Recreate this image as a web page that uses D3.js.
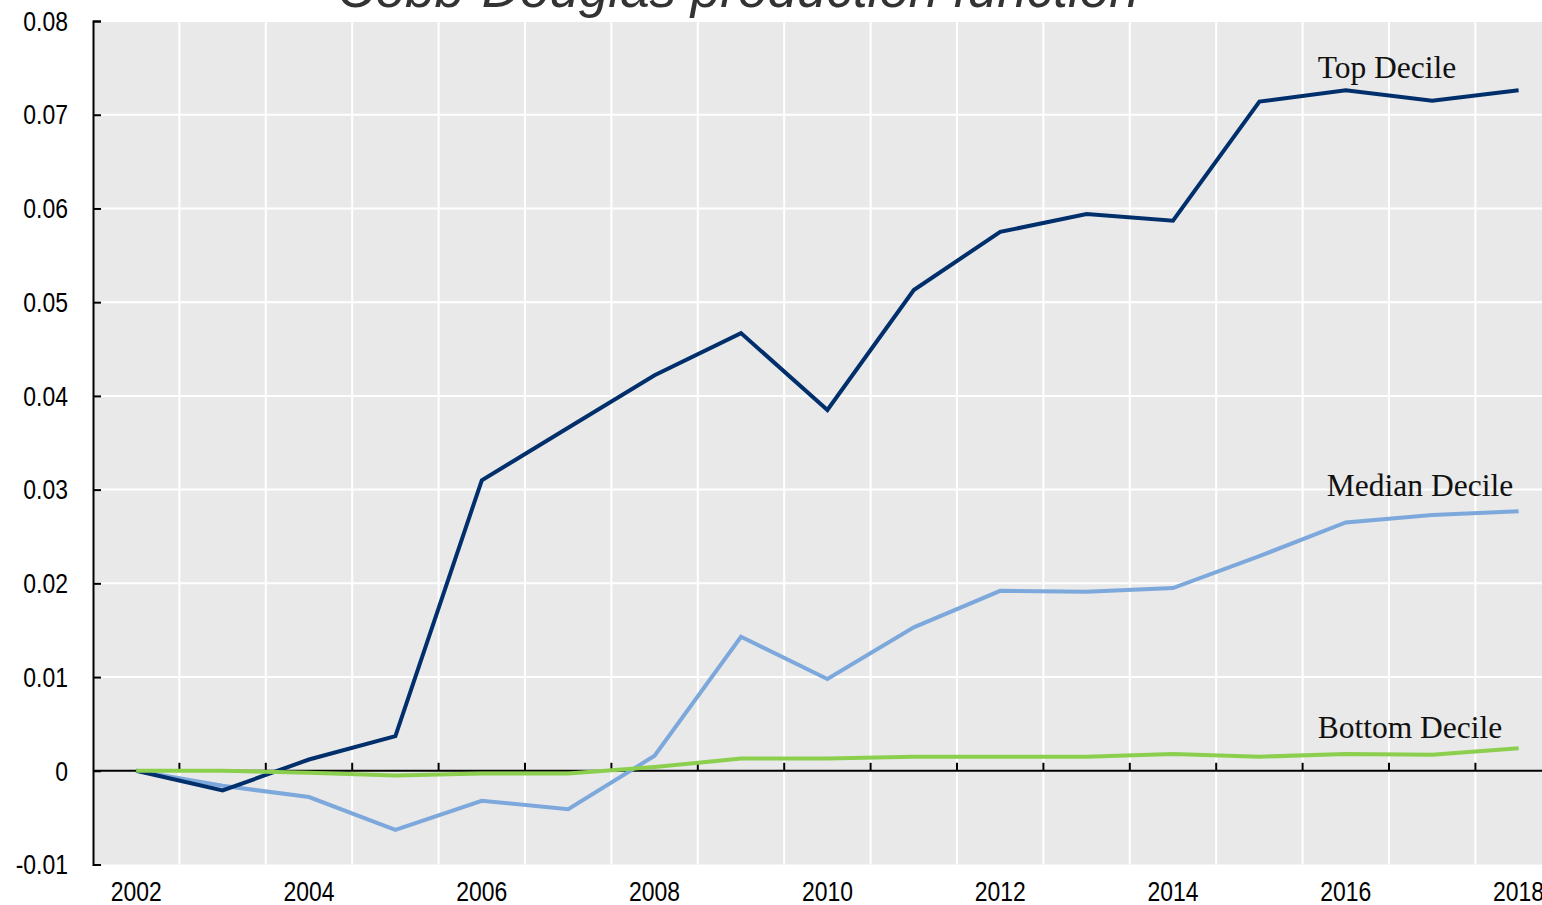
<!DOCTYPE html>
<html>
<head>
<meta charset="utf-8">
<script src="https://cdn.jsdelivr.net/npm/d3@7"></script>
<style>
  body { margin: 0; background: #fff; overflow: hidden; }
  svg { display: block; }
  .tick-label { font-family: "Liberation Sans", Arial, sans-serif; font-size: 27px; fill: #000; }
  .series-label { font-family: "Liberation Serif", "Times New Roman", serif; font-size: 31.5px; fill: #111; }
  .title { font-family: "Liberation Sans", Arial, sans-serif; font-style: italic; font-size: 53px; fill: #333; }
</style>
</head>
<body>
<svg width="1542" height="905"></svg>
<script>
// data
years = ['2002','2003','2004','2005','2006','2007','2008','2009','2010','2011','2012','2013','2014','2015','2016','2017','2018'];
topDecile    = [0, -0.0021, 0.0012, 0.0037, 0.0310, 0.0366, 0.0422, 0.0467, 0.0385, 0.0513, 0.0575, 0.0594, 0.0587, 0.0714, 0.0726, 0.0715, 0.0726];
medianDecile = [0, -0.0016, -0.0028, -0.0063, -0.0032, -0.0041, 0.0016, 0.0143, 0.0098, 0.0153, 0.0192, 0.0191, 0.0195, 0.0229, 0.0265, 0.0273, 0.0277];
bottomDecile = [0, 0, -0.0002, -0.0005, -0.0003, -0.0003, 0.0004, 0.0013, 0.0013, 0.0015, 0.0015, 0.0015, 0.0018, 0.0015, 0.0018, 0.0017, 0.0024];
yTicks = [-0.01, 0, 0.01, 0.02, 0.03, 0.04, 0.05, 0.06, 0.07, 0.08];
yTickLabels = ['-0.01', '0', '0.01', '0.02', '0.03', '0.04', '0.05', '0.06', '0.07', '0.08'];
xLabelYears = ['2002','2004','2006','2008','2010','2012','2014','2016','2018'];
seriesNames = ['Top Decile', 'Median Decile', 'Bottom Decile'];
seriesColors = ['#002f6c', '#7da8dc', '#8ccf4e'];

svg = d3.select('svg');

left = 93;
top_ = 21;
bottom = 864.5;
step = 86.4;
squeeze = 0.85; // condensed look of the tick font

xScale = d3.scaleBand()
    .domain(years)
    .range([left, left + step * years.length])
    .padding(0);

yScale = d3.scaleLinear()
    .domain([-0.01, 0.08])
    .range([bottom, top_]);

cx = (y) => xScale(y) + xScale.bandwidth() / 2;

// title (cut off at top)
svg.append('text')
    .attr('class', 'title')
    .attr('x', 738)
    .attr('y', 7)
    .attr('text-anchor', 'middle')
    .text('Cobb-Douglas production function');

// plot background
svg.append('rect')
    .attr('x', left)
    .attr('y', top_)
    .attr('width', 1542 - left)
    .attr('height', bottom - top_)
    .attr('fill', '#e9e9e9');

// horizontal grid lines
svg.append('g')
    .selectAll('line')
    .data(yTicks.filter((t) => t !== 0 && t !== -0.01))
    .enter()
    .append('line')
    .attr('x1', left)
    .attr('x2', 1542)
    .attr('y1', (t) => yScale(t))
    .attr('y2', (t) => yScale(t))
    .attr('stroke', '#fff')
    .attr('stroke-width', 2);

// vertical grid lines at band edges
svg.append('g')
    .selectAll('line')
    .data(years.slice(1))
    .enter()
    .append('line')
    .attr('x1', (y) => xScale(y))
    .attr('x2', (y) => xScale(y))
    .attr('y1', top_)
    .attr('y2', bottom)
    .attr('stroke', '#fff')
    .attr('stroke-width', 2);

// zero line + x ticks
svg.append('line')
    .attr('x1', left)
    .attr('x2', 1542)
    .attr('y1', yScale(0))
    .attr('y2', yScale(0))
    .attr('stroke', '#000')
    .attr('stroke-width', 2);

svg.append('g')
    .selectAll('line')
    .data(years.slice(1))
    .enter()
    .append('line')
    .attr('x1', (y) => xScale(y))
    .attr('x2', (y) => xScale(y))
    .attr('y1', yScale(0))
    .attr('y2', yScale(0) - 8)
    .attr('stroke', '#000')
    .attr('stroke-width', 2);

// y axis
yAxis = svg.append('g')
    .attr('transform', `translate(${left}, 0)`)
    .call(d3.axisRight(yScale)
        .tickValues(yTicks)
        .tickSize(8)
        .tickFormat(''));
yAxis.select('.domain').attr('stroke', '#000').attr('stroke-width', 2);
yAxis.selectAll('.tick line').attr('stroke', '#000').attr('stroke-width', 2);

svg.append('g')
    .selectAll('text')
    .data(yTicks)
    .enter()
    .append('text')
    .attr('class', 'tick-label')
    .attr('transform', (t) => `translate(68, ${yScale(t)}) scale(${squeeze}, 1)`)
    .attr('dy', '0.36em')
    .attr('text-anchor', 'end')
    .text((t, i) => yTickLabels[i]);

// x labels
svg.append('g')
    .selectAll('text')
    .data(xLabelYears)
    .enter()
    .append('text')
    .attr('class', 'tick-label')
    .attr('transform', (y) => `translate(${cx(y)}, 901) scale(${squeeze}, 1)`)
    .attr('text-anchor', 'middle')
    .text((y) => y);

// lines
line = d3.line()
    .x((d, i) => cx(years[i]))
    .y((d) => yScale(d));

allSeries = [topDecile, medianDecile, bottomDecile];
[1, 0, 2].forEach((k) => {
    svg.append('path')
        .datum(allSeries[k])
        .attr('fill', 'none')
        .attr('stroke', seriesColors[k])
        .attr('stroke-width', 4)
        .attr('stroke-linejoin', 'miter')
        .attr('d', line);
});

// series labels near the right end
labelYear = '2017';
labelValues = [0.0739, 0.0293, 0.0035];
labelShift = [-2, 31, 21];
svg.append('g')
    .selectAll('text')
    .data(seriesNames)
    .enter()
    .append('text')
    .attr('class', 'series-label')
    .attr('x', (n, i) => xScale(labelYear) + labelShift[i])
    .attr('y', (n, i) => yScale(labelValues[i]))
    .attr('text-anchor', 'middle')
    .text((n) => n);
</script>
</body>
</html>
